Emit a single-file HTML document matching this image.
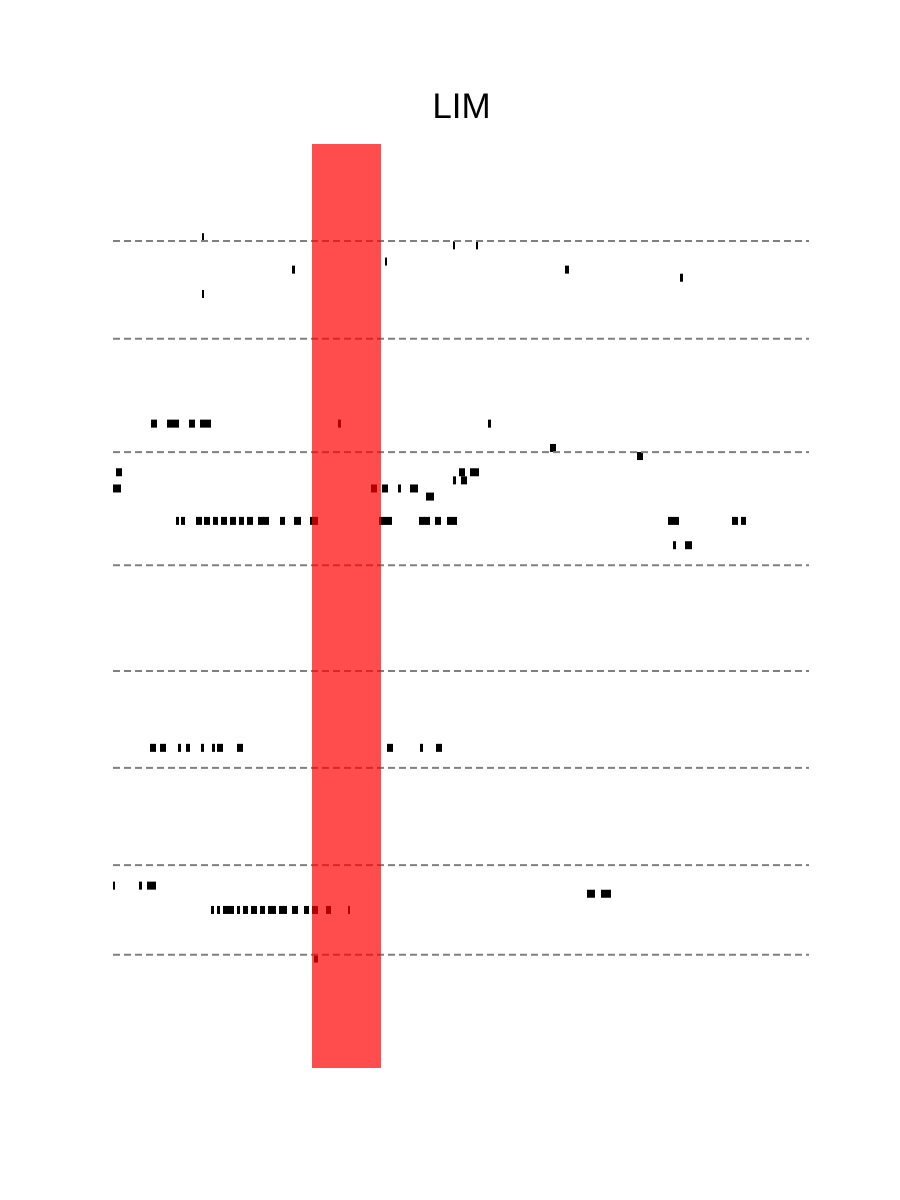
<!DOCTYPE html>
<html><head><meta charset="utf-8"><style>
html,body{margin:0;padding:0;background:#fff;}
svg{display:block;}
</style></head><body>
<svg id="chart" width="900" height="1200" xmlns="http://www.w3.org/2000/svg">
<text x="461.5" y="118" text-anchor="middle" font-family="Liberation Sans, sans-serif" font-size="35" fill="#000">LIM</text>
<g id="marks"></g>
<g id="seps"></g>
<g id="band"></g>
</svg>
<script>
// data
const rowIds = [11,12,14,15,16,18,34,37,38,40,41,42,43,46,49,74,91,92,94,100];
const rowEvents = [
 [[202,204]],
 [[453,455],[476,478]],
 [[385,387]],
 [[292,295],[565,569]],
 [[680,683]],
 [[202,204]],
 [[151,157],[167,179],[189,195],[200,211],[338,341],[488,491]],
 [[550,556]],
 [[637,643]],
 [[116,122],[459,465],[470,479]],
 [[453,456],[461,467]],
 [[113,121],[371,377],[382,388],[398,401],[410,418]],
 [[426,434]],
 [[176,179],[181,185],[196,202],[204,210],[213,218],[221,227],[230,236],[239,244],[247,253],[258,269],[280,285],[294,301],[310,318],[379,392],[419,430],[435,441],[447,457],[668,679],[732,738],[741,746]],
 [[673,676],[685,692]],
 [[150,156],[160,166],[178,181],[186,190],[201,204],[212,215],[217,223],[237,243],[387,393],[420,423],[436,442]],
 [[113,115],[139,142],[147,156]],
 [[587,595],[601,611]],
 [[211,214],[217,220],[223,234],[237,240],[243,248],[251,257],[260,265],[268,276],[279,287],[292,298],[304,309],[312,318],[326,331],[348,350]],
 [[314,318]]
];
const separators = [11.97,24.02,38.02,51.97,65.02,76.97,88.97,100.02];
const bandRange = [312,381];
const xDomain = [113,809];
const yDomain = [0,114];

// axes
const plot = {left:113,right:809,top:144,bottom:1068};
const xs = v => plot.left + (v - xDomain[0])/(xDomain[1]-xDomain[0])*(plot.right-plot.left);
const ys = v => plot.top + (v - yDomain[0])/(yDomain[1]-yDomain[0])*(plot.bottom-plot.top);
const NS = 'http://www.w3.org/2000/svg';

const mg = document.getElementById('marks');
rowIds.forEach((r,i)=>{
  rowEvents[i].forEach(ev=>{
    const el = document.createElementNS(NS,'rect');
    
    
    const x0 = xs(ev[0]), x1 = xs(ev[1]);
    el.setAttribute('x', x0);
    el.setAttribute('width', Math.max(2, x1-x0));
    el.setAttribute('y', ys(r+0.5)-4);
    el.setAttribute('height', 8);
    el.setAttribute('fill', '#000');
    mg.appendChild(el);
  });
});
const sg = document.getElementById('seps');
separators.forEach(s=>{
  const el = document.createElementNS(NS,'line');
  
  
  el.setAttribute('x1', plot.left); el.setAttribute('x2', plot.right);
  el.setAttribute('y1', ys(s)); el.setAttribute('y2', ys(s));
  el.setAttribute('stroke', '#808080');
  el.setAttribute('stroke-width', '2');
  el.setAttribute('stroke-dasharray', '7,4');
  sg.appendChild(el);
});
const bg = document.getElementById('band');
const b = document.createElementNS(NS,'rect');


b.setAttribute('x', xs(bandRange[0]));
b.setAttribute('width', xs(bandRange[1])-xs(bandRange[0]));
b.setAttribute('y', plot.top);
b.setAttribute('height', plot.bottom-plot.top);
b.setAttribute('fill', 'rgb(255,0,0)');
b.setAttribute('fill-opacity', '0.7');
bg.appendChild(b);
</script>
</body></html>
